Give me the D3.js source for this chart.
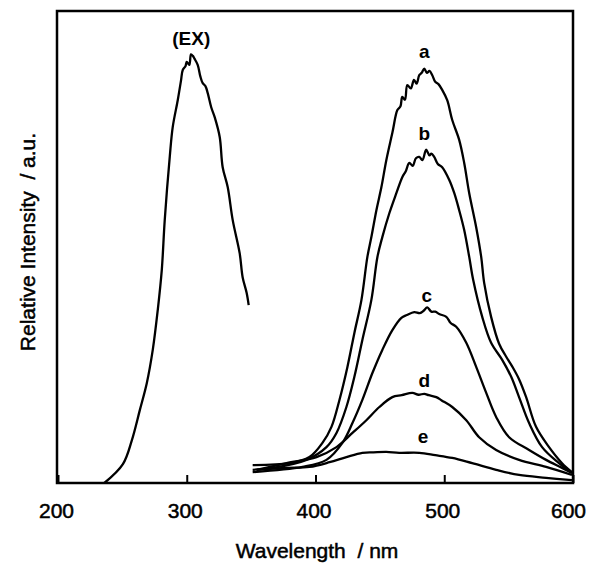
<!DOCTYPE html>
<html>
<head>
<meta charset="utf-8">
<script src="https://cdn.jsdelivr.net/npm/d3@7"></script>
<style>
  body { margin: 0; background: #fff; }
  text { font-family: "Liberation Sans", Arial, Helvetica, sans-serif; fill: #000; }
</style>
</head>
<body>
<svg id="chart"></svg>
<script>
const W = 589, H = 566;

// tick labels of the wavelength axis
var xTicks = [200, 300, 400, 500, 600];

// excitation spectrum (EX)
var exNm = [236, 250.4, 257.4, 263.6, 269, 273.6, 277.5, 280.6, 282.9, 286.8, 289.1, 293, 295.5, 296.9, 299, 300, 302, 303.3, 304.7, 306, 308.5, 310.5, 312.4, 314.5, 316.3, 319, 321.7, 325.6, 327.9, 331.8, 335.7, 341.1, 343.4, 346.5, 348.1];
var exVal = [0, 4, 9.1, 15.5, 21.2, 28.2, 36.7, 45.1, 55.7, 69.1, 75.4, 81.1, 85.2, 87.5, 88.3, 89.2, 88.6, 90.8, 90.5, 89.9, 88.6, 86.2, 84.7, 84.1, 82.6, 79.6, 77.5, 73.3, 66.9, 62.7, 55.7, 48.7, 43.6, 40.3, 37.7];

// emission spectra a - e
var aNm = [351.2, 379.8, 395.3, 405.4, 412.4, 418.6, 424.8, 430.2, 435.7, 440.3, 443.4, 447.3, 451.2, 455, 459.7, 463.6, 466, 467.4, 469.5, 471.3, 474, 476.5, 478.5, 480.6, 482.5, 484.5, 486.5, 488.5, 490.7, 493, 495.5, 498.4, 502.3, 506.2, 511.6, 515.5, 519.4, 524.8, 528.7, 531, 536.4, 542.6, 548, 553, 558.1, 563.6, 571.3, 581.4, 591.5, 599.2];
var aVal = [3.8, 4.2, 5.5, 8.5, 11.9, 17.6, 24.6, 31.8, 38.8, 47.9, 52.1, 57.8, 62.7, 68.4, 74.2, 79, 79.8, 81.8, 81.2, 84.3, 83.6, 85.4, 84.6, 86.4, 86.9, 87.8, 86.9, 87.3, 86.4, 85, 84.5, 83.3, 81.1, 76.9, 72.7, 67.8, 61.4, 54.2, 47.9, 42.4, 35.2, 29.5, 26.8, 24.6, 22, 18.2, 11.9, 7.6, 4.2, 2.3];

var bNm = [351.2, 366.7, 393, 408.5, 416.3, 424, 430.2, 436.4, 443.4, 448.1, 451.9, 457.4, 462.8, 467.4, 470, 472.9, 475.5, 478, 480.6, 483, 486, 488.5, 490, 492.2, 495, 498.4, 503.9, 507.8, 511.6, 515.5, 519.4, 522.5, 529.5, 536.4, 545, 552, 558.1, 565.9, 576, 589.1, 599.2];
var bVal = [2.8, 3.2, 4.9, 7.6, 10.6, 16.1, 22.5, 30.3, 38.8, 47.9, 52.1, 57.2, 61.4, 64.8, 66, 67.8, 67.2, 68.8, 69.1, 68.4, 70.6, 69.4, 69.8, 69.1, 67.6, 66.9, 64.2, 61.4, 57.8, 53.6, 47.9, 43, 35.2, 29.7, 26.1, 22.5, 18.2, 12.7, 7.6, 4.2, 2.1];

var cNm = [351.2, 389.9, 408.5, 420.9, 428.7, 436.4, 444.2, 451.9, 459.7, 466.7, 471, 476.7, 481, 484, 486.8, 490, 493, 496.1, 501.6, 505, 509.3, 517.1, 524.8, 532.6, 540.3, 550.4, 565.9, 579.1, 591.5, 599.2];
var cVal = [2.3, 3.4, 4.9, 8.5, 12.7, 17.6, 23.3, 28.2, 32.4, 35, 35.6, 36.2, 36, 36.5, 37.2, 36.3, 36.3, 35.8, 35.2, 33.9, 33.1, 29.7, 24.6, 19.1, 14, 9.7, 7, 4.9, 3.2, 2.1];

var dNm = [354.3, 377.5, 400.8, 416.3, 428.7, 439.5, 449.6, 459.7, 467, 475.2, 480, 484.5, 488, 493.8, 498, 506.2, 517.1, 527.1, 540.3, 558.1, 579.1, 599.2];
var dVal = [2.8, 4.2, 5.5, 7.6, 10.6, 13.3, 16.1, 18.2, 18.6, 19.1, 18.7, 18.9, 18.6, 18.2, 17.5, 16.1, 13.3, 9.7, 7, 4.9, 3.4, 1.7];

var eNm = [354.3, 377.5, 395.3, 410.9, 424, 436.4, 445, 455, 465, 480.6, 493, 506.2, 521.7, 540.3, 558.1, 579.1, 599.2];
var eVal = [2.8, 3.2, 3.4, 4.4, 5.5, 6.4, 6.5, 6.6, 6.4, 6.4, 5.9, 5.3, 4.2, 2.8, 1.7, 1.1, 0.6];

// curve labels: text, wavelength, intensity
var labelText = ["(EX)", "a", "b", "c", "d", "e"];
var labelNm = [303.5, 484.5, 484.5, 486.5, 484.5, 483.5];
var labelVal = [92.8, 90, 72.7, 38.3, 20.3, 8.5];

var svg = d3.select("#chart").attr("width", W).attr("height", H);

var x = d3.scaleLinear().domain([200, 600]).range([58, 573]);
var y = d3.scaleLinear().domain([0, 100]).range([483, 11]);

var line = d3.line()
  .x(function (d) { return x(d[0]); })
  .y(function (d) { return y(d[1]); })
  .curve(d3.curveCatmullRom.alpha(0.5));

var curves = [[exNm, exVal], [aNm, aVal], [bNm, bVal], [cNm, cVal], [dNm, dVal], [eNm, eVal]];
curves.forEach(function (c) {
  svg.append("path")
    .datum(d3.zip(c[0], c[1]))
    .attr("d", line)
    .attr("fill", "none")
    .attr("stroke", "#000")
    .attr("stroke-width", 2.3)
    .attr("stroke-linejoin", "round");
});

// x axis with inner ticks
var xaxis = svg.append("g")
  .attr("transform", "translate(0," + y(0) + ")")
  .call(d3.axisBottom(x).tickValues(xTicks).tickSizeInner(-8).tickSizeOuter(0).tickPadding(20));
xaxis.select(".domain").remove();
xaxis.selectAll("line").attr("stroke", "#000").attr("stroke-width", 2);
xaxis.selectAll("text")
  .attr("font-size", 21)
  .attr("font-family", "Liberation Sans, Arial, sans-serif")
  .attr("stroke", "#000").attr("stroke-width", 0.5)
  .attr("dx", function (d) { return d == 600 ? -5 : -2; });

// frame
svg.append("rect")
  .attr("x", x(200) - 1).attr("y", y(100))
  .attr("width", x(600) - x(200) + 1).attr("height", y(0) - y(100))
  .attr("fill", "none").attr("stroke", "#000").attr("stroke-width", 2.5);

// curve labels
svg.selectAll(".lbl")
  .data(labelText)
  .enter().append("text")
  .attr("class", "lbl")
  .attr("x", function (d, i) { return x(labelNm[i]); })
  .attr("y", function (d, i) { return y(labelVal[i]); })
  .attr("text-anchor", "middle")
  .attr("font-size", 19)
  .attr("font-weight", "bold")
  .text(function (d) { return d; });

// axis titles
svg.append("text")
  .attr("x", 317).attr("y", 558)
  .attr("text-anchor", "middle")
  .attr("font-size", 21)
  .attr("stroke", "#000").attr("stroke-width", 0.5)
  .attr("xml:space", "preserve")
  .text("Wavelength  / nm");

svg.append("text")
  .attr("transform", "translate(35,242) rotate(-90)")
  .attr("text-anchor", "middle")
  .attr("font-size", 21)
  .attr("stroke", "#000").attr("stroke-width", 0.5)
  .attr("xml:space", "preserve")
  .text("Relative Intensity  / a.u.");
</script>
</body>
</html>
